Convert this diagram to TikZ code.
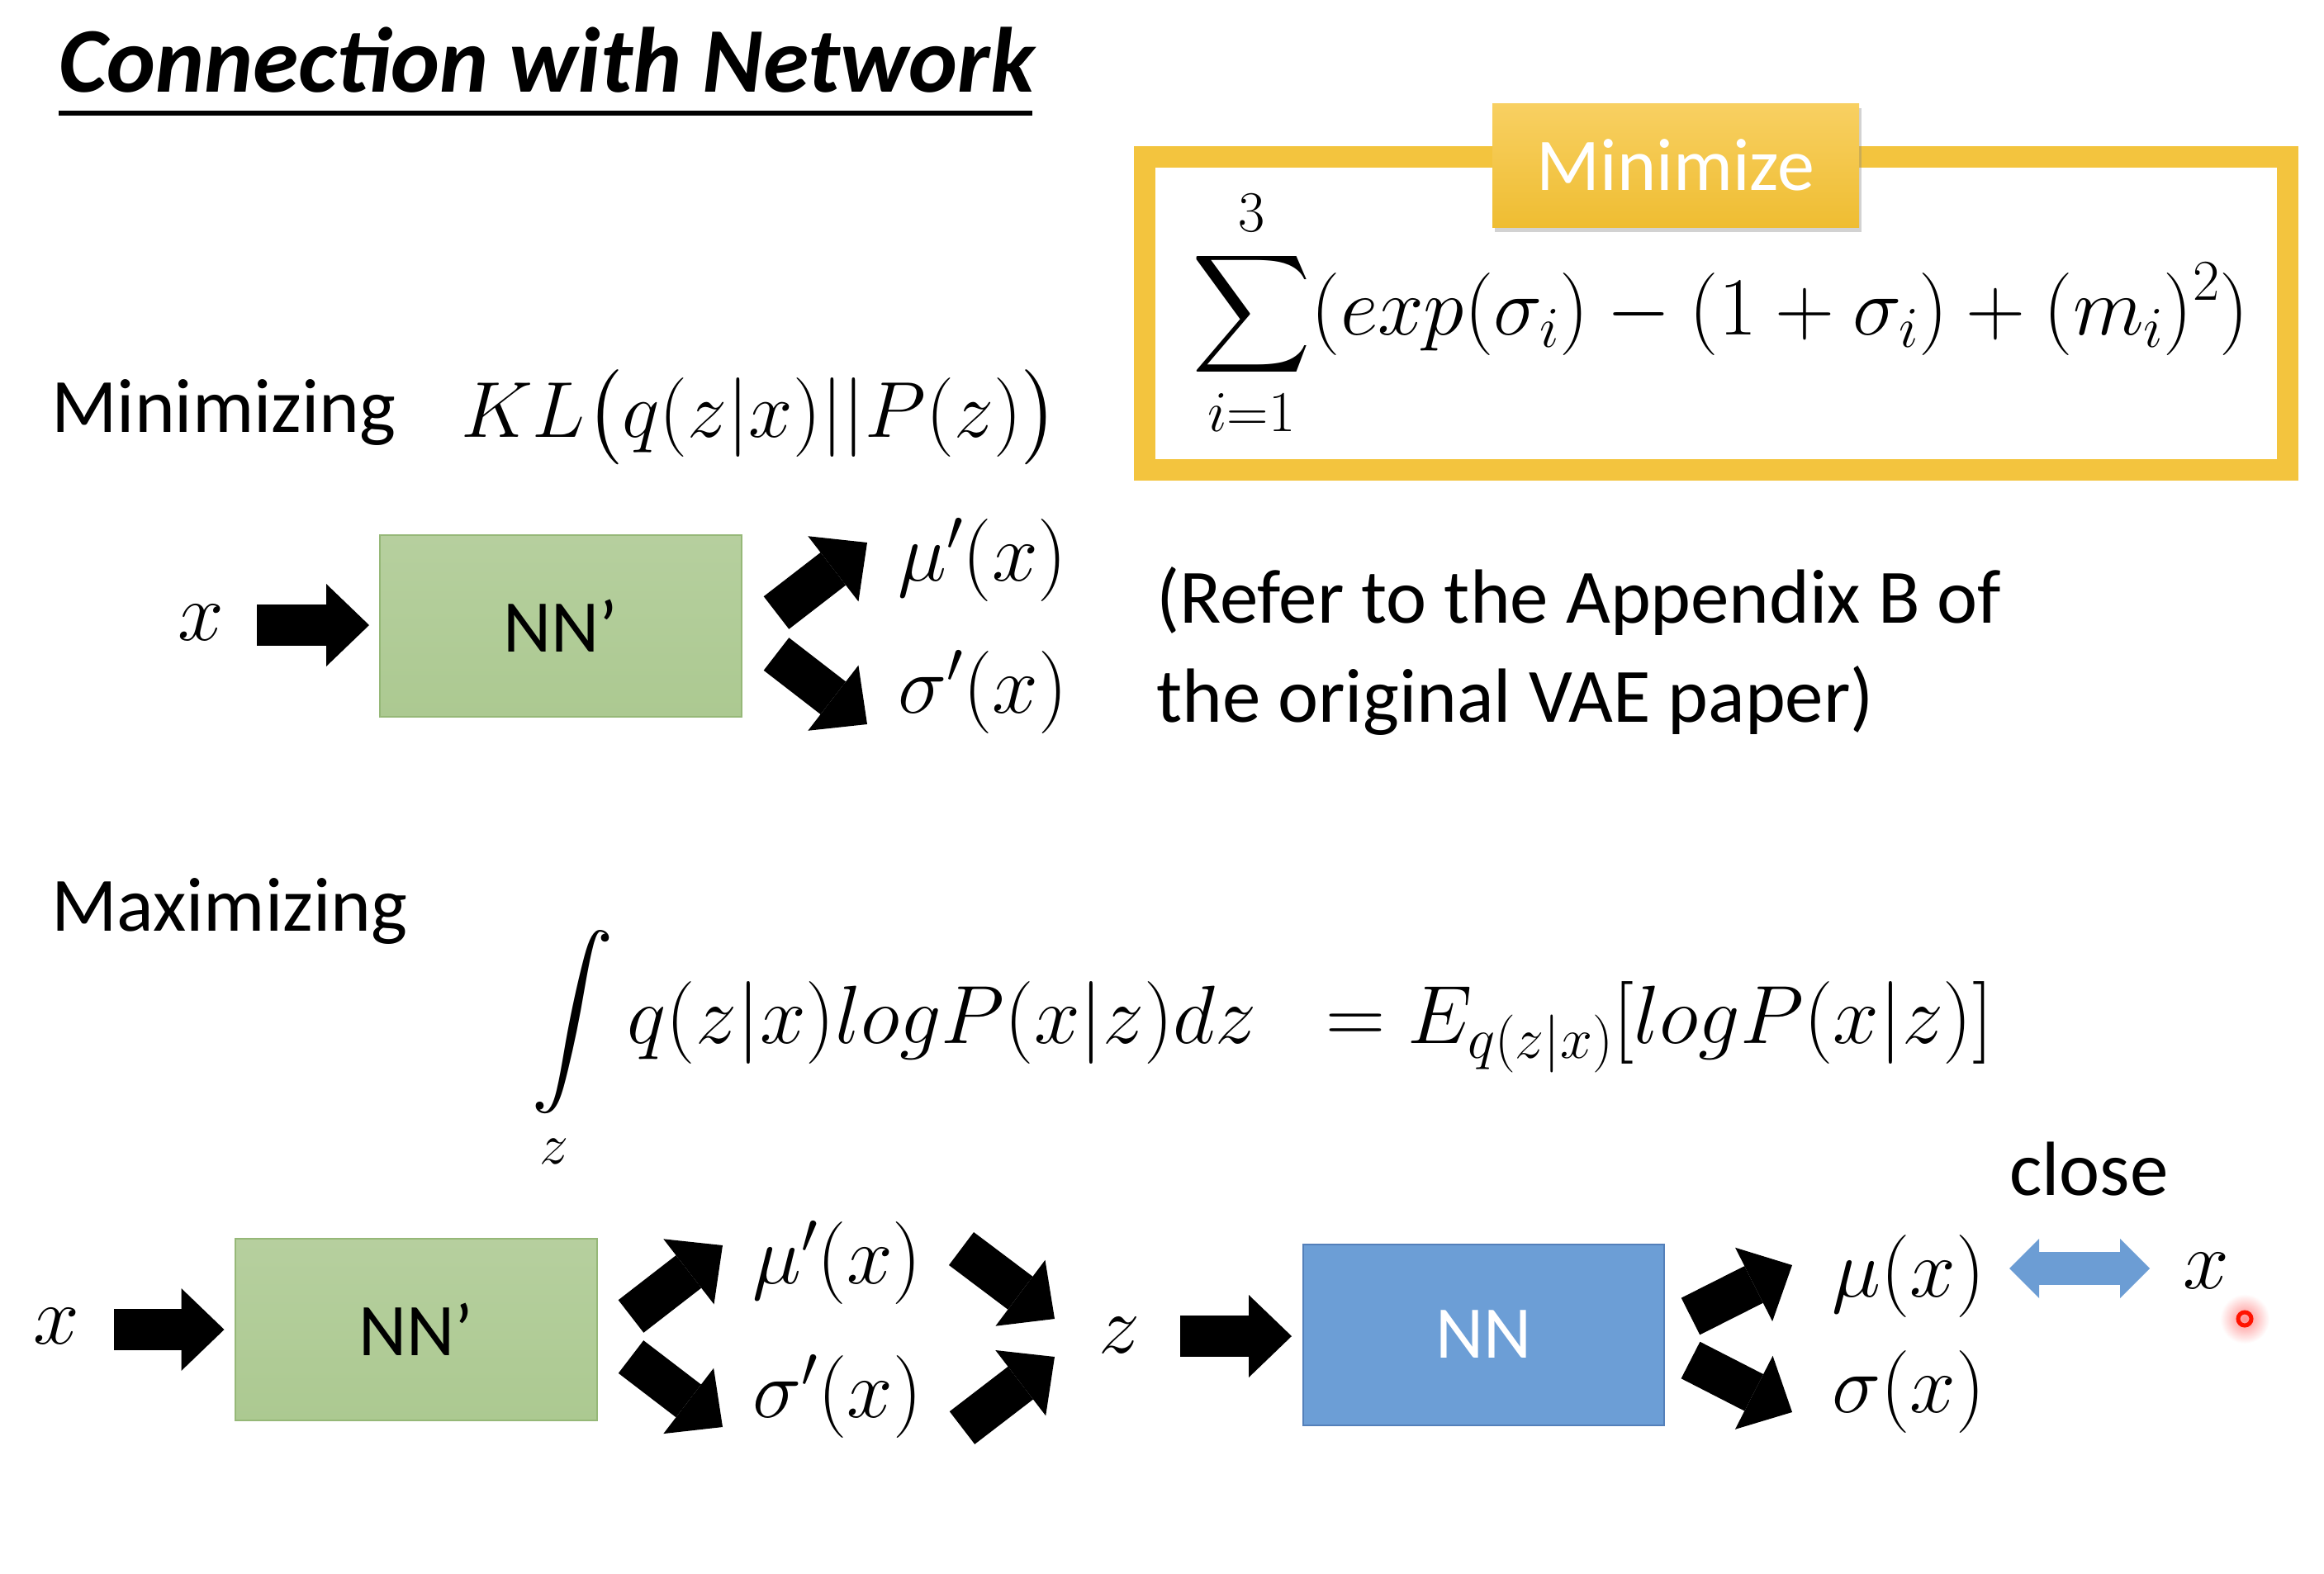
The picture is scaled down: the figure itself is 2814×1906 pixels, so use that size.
\RequirePackage{fix-cm}
\documentclass[tikz,border=0pt]{standalone}
\usepackage{amsmath}
\usepackage[no-math]{fontspec}
\setmainfont{Carlito}
\DeclareFontShape{OMX}{cmex}{m}{n}{<->cmex10}{}
\usetikzlibrary{arrows.meta,shadows,calc}
\definecolor{nngreen}{RGB}{172,201,145}
\definecolor{nngreenline}{RGB}{150,184,120}
\definecolor{nnblue}{RGB}{108,158,214}
\definecolor{nnblueline}{RGB}{84,128,186}
\definecolor{frameyellow}{RGB}{243,196,62}
\definecolor{tagtop}{RGB}{248,208,98}
\definecolor{tagbot}{RGB}{239,189,50}
\definecolor{closeblue}{RGB}{108,157,212}
\newcommand\tfs[1]{\fontsize{#1}{#1}\selectfont}
\begin{document}
\begin{tikzpicture}[x=1pt,y=-1pt,
  txt/.style={anchor=base west,inner sep=0pt,font=\tfs{93}},
  mth/.style={anchor=base west,inner sep=0pt,font=\tfs{100}},
  greenbox/.style={draw=nngreenline,line width=2pt,top color=nngreen!88!white,bottom color=nngreen,minimum width=438pt,minimum height=220pt,font=\tfs{90},inner sep=0pt},
  bluebox/.style={draw=nnblueline,line width=2pt,fill=nnblue,minimum width=437pt,minimum height=219pt,font=\tfs{90},text=white,inner sep=0pt},
  fatarrow/.style={line width=50pt,-{Triangle[length=52pt,width=100pt,line width=0pt]}},
  closearrow/.style={closeblue,line width=40pt,{Triangle[length=36pt,width=72pt,line width=0pt]}-{Triangle[length=36pt,width=72pt,line width=0pt]}}
]
\useasboundingbox (0,0) rectangle (2814,1906);
\fill[white] (0,0) rectangle (2814,1906);

% title
\node[anchor=base west,inner sep=0pt,font=\tfs{112}\bfseries\itshape] (title) at (71,111) {Connection with Network};
\draw[line width=6pt] (71,137) -- (1250,137);

% KL part
\node[txt] (minz) at (62,523) {Minimizing};
\node[mth,font=\tfs{96}] (kl) at (558,529) {$KL\big(q(z|x)||P(z)\big)$};

% yellow frame and formula
\draw[frameyellow,line width=26pt] (1386,190) rectangle (2770,569);
\node[mth] (sumf) at (1443,405) {$\displaystyle\sum_{i=1}^{3}(exp(\sigma_i)-(1+\sigma_i)+(m_i)^2)$};
\node[minimum width=444pt,minimum height=150pt,inner sep=0pt,top color=tagtop,bottom color=tagbot,
      drop shadow={shadow xshift=3pt,shadow yshift=-6pt,opacity=0.35},font=\tfs{90},text=white] (tag) at (2029,200) {Minimize};

% top network
\node[mth] (x1) at (215,775) {$x$};
\node[greenbox] (nn1) at (679,758) {NN’};
\node[mth] (mu1) at (1087,703) {$\mu'(x)$};
\node[mth] (sg1) at (1087,863) {$\sigma'(x)$};
\coordinate (a1s) at (311,757);
\draw[fatarrow,shorten >=12pt] (a1s) -- (a1s -| nn1.west);
\coordinate (f1a) at (940,742);
\coordinate (f1b) at (1050,657);
\coordinate (f2a) at (940,792);
\coordinate (f2b) at (1050,877);
\draw[fatarrow] (f1a) -- (f1b);
\draw[fatarrow] (f2a) -- (f2b);

\node[txt] (ref1) at (1400,754) {(Refer to the Appendix B of};
\node[txt] (ref2) at (1400,874) {the original VAE paper)};

% maximizing
\node[txt] (maxz) at (62,1127) {Maximizing};
\node[mth] (intf) at (643,1263) {$\displaystyle\int\limits_{z} q(z|x)logP(x|z)dz\;\;= E_{q(z|x)}[logP(x|z)]$};

% bottom network
\node[mth] (x2) at (40,1627) {$x$};
\node[greenbox] (nn2) at (503.5,1610) {NN’};
\coordinate (a2s) at (138,1610);
\draw[fatarrow,shorten >=12pt] (a2s) -- (a2s -| nn2.west);
\node[mth] (mu2) at (911,1554) {$\mu'(x)$};
\node[mth] (sg2) at (911,1716) {$\sigma'(x)$};
\coordinate (g1a) at (764,1594);
\coordinate (g1b) at (875,1508);
\coordinate (g2a) at (764,1643);
\coordinate (g2b) at (875,1728);
\draw[fatarrow] (g1a) -- (g1b);
\draw[fatarrow] (g2a) -- (g2b);
\coordinate (h1a) at (1164,1512);
\coordinate (h1b) at (1277,1597);
\coordinate (h2a) at (1165,1729);
\coordinate (h2b) at (1277,1643);
\draw[fatarrow] (h1a) -- (h1b);
\draw[fatarrow] (h2a) -- (h2b);
\node[mth] (z) at (1330,1638) {$z$};
\node[bluebox] (nn3) at (1796.5,1616) {NN};
\coordinate (a3s) at (1429,1618);
\draw[fatarrow,shorten >=13pt] (a3s) -- (a3s -| nn3.west);
\coordinate (k1a) at (2047,1594);
\coordinate (k1b) at (2170,1532);
\coordinate (k2a) at (2047,1647);
\coordinate (k2b) at (2170,1710);
\draw[fatarrow] (k1a) -- (k1b);
\draw[fatarrow] (k2a) -- (k2b);
\node[mth] (mu3) at (2218,1570) {$\mu(x)$};
\node[mth] (sg3) at (2218,1710) {$\sigma(x)$};
\node[mth] (x3) at (2643,1560) {$x$};
\node[txt] (close) at (2433,1447) {close};
\coordinate (d1) at (2433,1536);
\coordinate (d2) at (2603,1536);
\draw[closearrow] (d1) -- (d2);

% laser pointer dot
\shade[inner color=red!45,outer color=white] (2718,1597) circle (30);
\draw[red!85!orange,line width=5pt] (2718,1597) circle (8);
\end{tikzpicture}
\end{document}
